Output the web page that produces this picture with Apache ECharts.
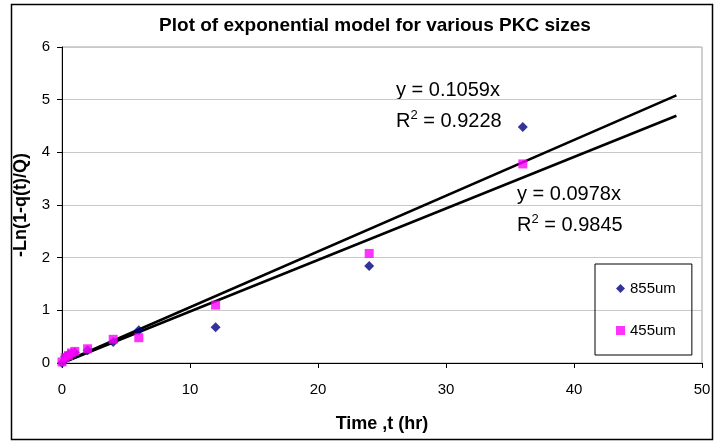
<!DOCTYPE html>
<html>
<head>
<meta charset="utf-8">
<script src="https://cdn.jsdelivr.net/npm/echarts@6/dist/echarts.min.js"></script>
<style>
  html, body { margin: 0; padding: 0; background: #fff; }
  #chart { width: 714px; height: 441px; }
</style>
</head>
<body>
<div id="chart"></div>
<script>
// measured points, time (hr) vs -ln(1-q(t)/Q)
const pts855 = [[0, 0], [0.25, 0.12], [0.5, 0.16], [0.75, 0.18], [1, 0.2], [2, 0.24], [4, 0.4], [6, 0.62], [12, 0.68], [24, 1.84], [36, 4.48]]
const pts455 = [[0, 0.02], [0.25, 0.1], [0.5, 0.14], [0.75, 0.19], [1, 0.22], [2, 0.27], [4, 0.45], [6, 0.48], [12, 1.1], [24, 2.08], [36, 3.78]]
// trendline slopes (through origin), R² and fit range
const slope855 = 0.1059
const slope455 = 0.0978
const r2_855 = '0.9228'
const r2_455 = '0.9845'
const fitX = [0, 48]
const seriesNames = ['855um', '455um']

const font = 'Liberation Sans, Arial, sans-serif'
const fitLine = (k) => fitX.map(x => [x, +(k * x).toFixed(4)])

// trendline label: equation + R² with superscript 2
const fitLabel = (left, top, k, r2) => ({
  type: 'text', left, top, silent: true,
  style: {
    text: '{t|y = ' + k + 'x}\n{t|R}{s|2}{t| = ' + r2 + '}',
    rich: {
      t: { fontFamily: font, fontSize: 20, lineHeight: 31, fill: '#000' },
      s: { fontFamily: font, fontSize: 13, lineHeight: 31, fill: '#000', padding: [0, 0, 12, 0] }
    }
  }
})

const chart = echarts.init(document.getElementById('chart'))
chart.setOption({
  animation: false,
  title: {
    text: 'Plot of exponential model for various PKC sizes',
    left: 370, top: 11, textAlign: 'center',
    textStyle: { fontFamily: font, fontSize: 19, fontWeight: 'bold', color: '#000' }
  },
  grid: {
    left: 62, right: 12, top: 47, bottom: 78,
    show: true, borderColor: '#a0a0a0', borderWidth: 1
  },
  legend: {
    orient: 'vertical', left: 595, top: 264,
    padding: [17, 16, 17, 21], itemGap: 27, itemWidth: 9, itemHeight: 9,
    borderColor: '#000', borderWidth: 1,
    data: seriesNames,
    textStyle: { fontFamily: font, fontSize: 15, color: '#000' }
  },
  xAxis: {
    type: 'value', min: 0, max: 50, interval: 10,
    name: 'Time ,t (hr)', nameLocation: 'middle', nameGap: 52,
    nameTextStyle: { fontFamily: font, fontSize: 18, fontWeight: 'bold', color: '#000' },
    axisLine: { onZero: false, lineStyle: { color: '#000', width: 1 } },
    axisTick: { show: true, length: 5, lineStyle: { color: '#000' } },
    axisLabel: { fontFamily: font, fontSize: 15, color: '#000', margin: 19 },
    splitLine: { show: false }
  },
  yAxis: {
    type: 'value', min: 0, max: 6, interval: 1,
    name: '-Ln(1-q(t)/Q)', nameLocation: 'middle', nameGap: 32,
    nameTextStyle: { fontFamily: font, fontSize: 18, fontWeight: 'bold', color: '#000' },
    axisLine: { show: true, onZero: false, lineStyle: { color: '#000', width: 1 } },
    axisTick: { show: true, length: 5, lineStyle: { color: '#000' } },
    axisLabel: { fontFamily: font, fontSize: 15, color: '#000', margin: 12 },
    splitLine: { show: true, lineStyle: { color: '#c8c8c8', width: 1 } }
  },
  series: [
    {
      name: 'fit855', type: 'line', data: fitLine(slope855), showSymbol: false,
      lineStyle: { color: '#000', width: 2.5 }, silent: true, z: 3
    },
    {
      name: 'fit455', type: 'line', data: fitLine(slope455), showSymbol: false,
      lineStyle: { color: '#000', width: 2.5 }, silent: true, z: 3
    },
    {
      name: seriesNames[0], type: 'scatter', data: pts855,
      symbol: 'diamond', symbolSize: 10, itemStyle: { color: '#000080' }, z: 4
    },
    {
      name: seriesNames[1], type: 'scatter', data: pts455,
      symbol: 'rect', symbolSize: 9, itemStyle: { color: '#ff00ff' }, z: 5
    }
  ],
  graphic: [
    {
      type: 'rect', shape: { x: 11.5, y: 4.5, width: 701, height: 435 },
      style: { fill: 'none', stroke: '#000', lineWidth: 1.5 }, silent: true
    },
    fitLabel(396, 80, slope855, r2_855),
    fitLabel(517, 184, slope455, r2_455)
  ]
})
</script>
</body>
</html>
